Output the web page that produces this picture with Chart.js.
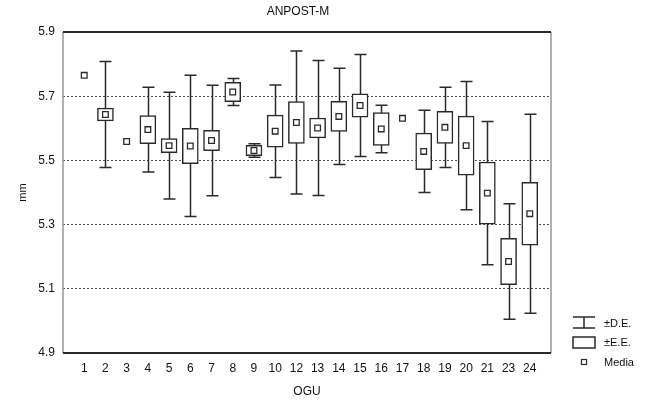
<!DOCTYPE html>
<html>
<head>
<meta charset="utf-8">
<script src="https://cdn.jsdelivr.net/npm/chart.js@4"></script>
<style>
  html, body { margin: 0; padding: 0; background: #fff; }
  #wrap { width: 648px; height: 403px; }
</style>
</head>
<body>
<div id="wrap"><canvas id="c" width="648" height="403"></canvas></div>
<script>
// OGU groups (no 22 in the source)
const groups = ['1','2','3','4','5','6','7','8','9','10','12','13','14','15','16','17','18','19','20','21','23','24'];
// means (mm)
const means = [5.765, 5.643, 5.559, 5.596, 5.546, 5.545, 5.562, 5.713, 5.531, 5.591, 5.618, 5.601,
               5.637, 5.671, 5.598, 5.631, 5.528, 5.603, 5.546, 5.398, 5.185, 5.334];
// standard error (box half height)
const se = [0, 0.020, 0, 0.044, 0.022, 0.055, 0.032, 0.030, 0.016, 0.050, 0.065, 0.031,
            0.047, 0.036, 0.051, 0, 0.057, 0.050, 0.092, 0.097, 0.072, 0.098];
// standard deviation (whisker half length)
const sd = [0, 0.165, 0, 0.132, 0.166, 0.220, 0.172, 0.042, 0.021, 0.144, 0.223, 0.210,
            0.150, 0.159, 0.074, 0, 0.128, 0.125, 0.200, 0.223, 0.180, 0.310];
const yTicks = [4.9, 5.1, 5.3, 5.5, 5.7, 5.9];

// the first/last slot is empty padding, like the original plot
const labels = [''].concat(groups, ['']);
const boxData = [null].concat(means.map((m, i) => se[i] > 0 ? [m - se[i], m + se[i]] : null), [null]);
const meanData = [null].concat(means, [null]);

const INK = '#2a2a2a';
const FONT = '"Liberation Sans", Arial, sans-serif';

const whiskers = {
    id: 'whiskers',
    beforeDatasetsDraw(chart) {
        let ctx = chart.ctx;
        let xs = chart.scales.x, ys = chart.scales.y;
        ctx.save();
        ctx.strokeStyle = INK;
        ctx.lineWidth = 1.5;
        means.forEach((m, i) => {
            if (!sd[i]) return;
            let x = Math.round(xs.getPixelForValue(i + 1)) + 0.5;
            let t = ys.getPixelForValue(m + sd[i]);
            let b = ys.getPixelForValue(m - sd[i]);
            ctx.beginPath();
            ctx.moveTo(x, t); ctx.lineTo(x, b);
            ctx.moveTo(x - 6, t); ctx.lineTo(x + 6, t);
            ctx.moveTo(x - 6, b); ctx.lineTo(x + 6, b);
            ctx.stroke();
        });
        ctx.restore();
    },
    afterDraw(chart) {
        let ctx = chart.ctx;
        let a = chart.chartArea;
        ctx.save();
        // frame
        ctx.lineWidth = 1.5;
        ctx.strokeStyle = '#999';
        ctx.beginPath();
        ctx.moveTo(a.left, a.top); ctx.lineTo(a.left, a.bottom);
        ctx.moveTo(a.right, a.top); ctx.lineTo(a.right, a.bottom);
        ctx.stroke();
        ctx.lineWidth = 2;
        ctx.strokeStyle = INK;
        ctx.beginPath();
        ctx.moveTo(a.left, a.top); ctx.lineTo(a.right, a.top);
        ctx.moveTo(a.left, a.bottom); ctx.lineTo(a.right, a.bottom);
        ctx.stroke();

        // title
        ctx.fillStyle = '#111';
        ctx.font = '12px ' + FONT;
        ctx.textAlign = 'center';
        ctx.textBaseline = 'middle';
        ctx.fillText('ANPOST-M', 298, 12);

        // legend
        ctx.strokeStyle = INK;
        ctx.lineWidth = 1.5;
        let lx = 573;
        ctx.beginPath();
        ctx.moveTo(lx, 317); ctx.lineTo(lx + 22, 317);
        ctx.moveTo(lx, 328); ctx.lineTo(lx + 22, 328);
        ctx.moveTo(lx + 11, 317); ctx.lineTo(lx + 11, 328);
        ctx.stroke();
        ctx.strokeRect(lx, 337, 22, 11);
        ctx.lineWidth = 1.2;
        ctx.strokeRect(lx + 8.5, 359.5, 5, 5);
        ctx.fillStyle = '#111';
        ctx.font = '11px ' + FONT;
        ctx.textAlign = 'left';
        ctx.fillText('±D.E.', 604, 324);
        ctx.fillText('±E.E.', 604, 343);
        ctx.fillText('Media', 604, 363);
        ctx.restore();
    }
};

new Chart(document.getElementById('c'), {
    type: 'bar',
    data: {
        labels: labels,
        datasets: [
            {
                type: 'line',
                label: 'Media',
                data: meanData,
                showLine: false,
                pointStyle: 'rect',
                pointRadius: 4,
                pointBackgroundColor: '#fff',
                pointBorderColor: INK,
                pointBorderWidth: 1.3,
                order: 1
            },
            {
                label: '±E.E.',
                data: boxData,
                backgroundColor: '#fff',
                borderColor: INK,
                borderWidth: 1.5,
                borderSkipped: false,
                barThickness: 16,
                order: 2
            }
        ]
    },
    options: {
        responsive: false,
        animation: false,
        events: [],
        layout: {padding: {top: 32, right: 97, left: 0, bottom: 0}},
        plugins: {legend: {display: false}, tooltip: {enabled: false}, title: {display: false}},
        scales: {
            x: {
                offset: false,
                grid: {display: false, drawTicks: false},
                border: {display: false},
                ticks: {
                    autoSkip: false, maxRotation: 0, padding: 8,
                    color: '#111', font: {family: FONT, size: 12}
                },
                title: {display: true, text: 'OGU', color: '#111', font: {family: FONT, size: 12}, padding: {top: 4}},
                afterFit(s) { s.height = 50; }
            },
            y: {
                min: 4.9, max: 5.9,
                afterBuildTicks(s) { s.ticks = yTicks.map(v => ({value: v})); },
                grid: {
                    color: (c) => (c.tick && (c.tick.value === 4.9 || c.tick.value === 5.9)) ? 'rgba(0,0,0,0)' : '#555',
                    lineWidth: 1, drawTicks: false
                },
                border: {display: false, dash: [2, 2]},
                ticks: {
                    padding: 8, color: '#111', font: {family: FONT, size: 12},
                    callback: (v) => Number(v).toFixed(1)
                },
                title: {display: true, text: 'mm', color: '#111', font: {family: FONT, size: 11}, padding: {top: 16, bottom: 6}},
                afterFit(s) { s.width = 63; }
            }
        }
    },
    plugins: [whiskers]
});
</script>
</body>
</html>
